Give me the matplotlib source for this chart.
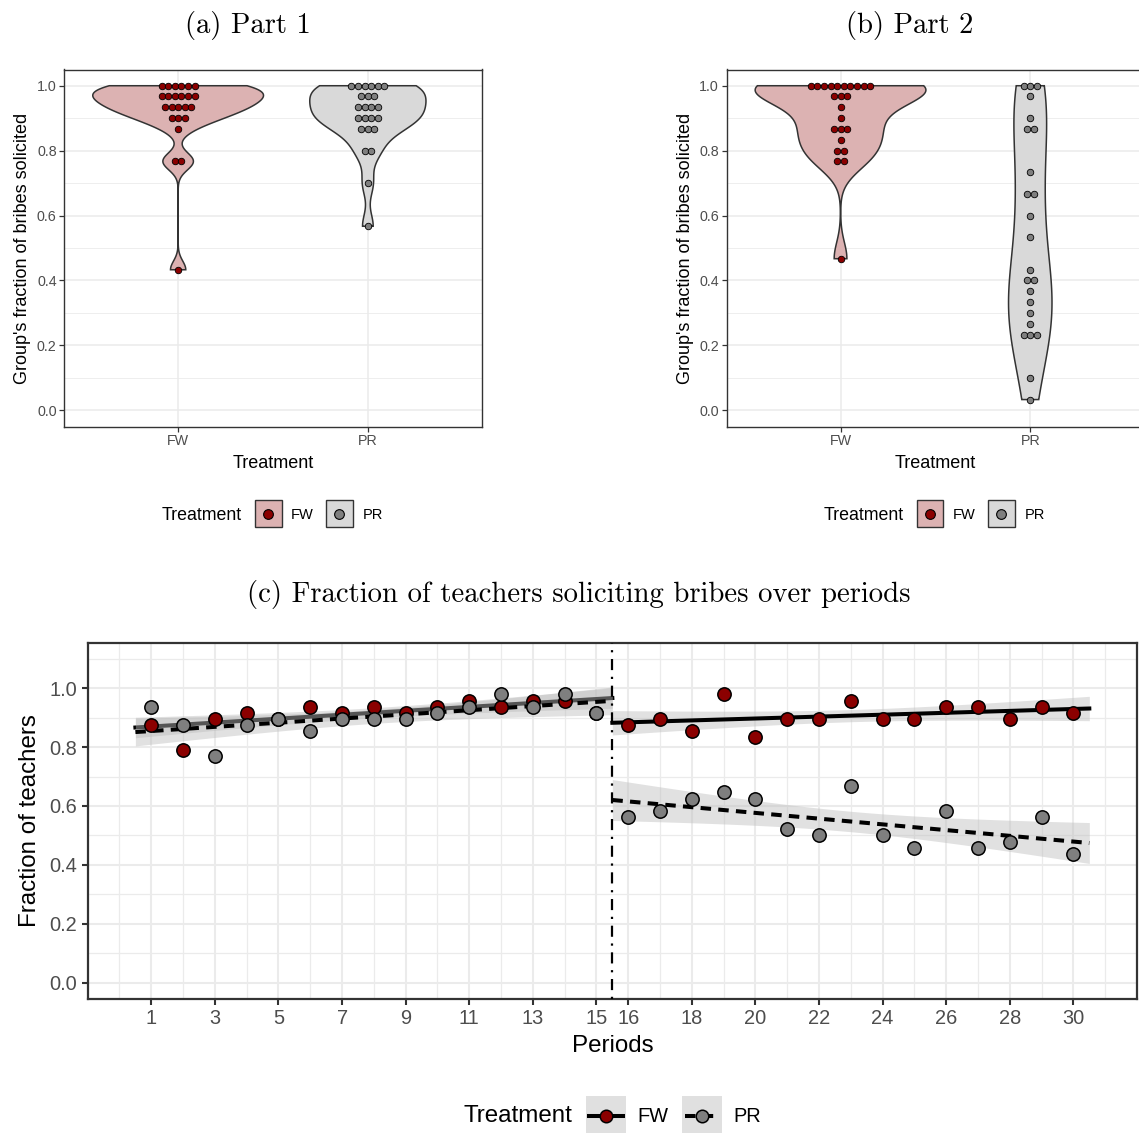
import numpy as np
import matplotlib
matplotlib.use('Agg')
import matplotlib.pyplot as plt
from matplotlib.patches import Rectangle
from matplotlib.lines import Line2D
from matplotlib.ticker import FixedLocator

plt.rcParams['font.family'] = ['Liberation Sans', 'DejaVu Sans']

# ---------------- data ----------------
treatments = ['FW', 'PR']

# Panel (a): Part 1, group-level fraction of bribes solicited (level, count)
a_fw_levels = [1.000, 0.967, 0.933, 0.900, 0.867, 0.767, 0.433]
a_fw_counts = [6, 6, 5, 3, 1, 2, 1]
a_pr_levels = [1.000, 0.967, 0.933, 0.900, 0.867, 0.800, 0.700, 0.567]
a_pr_counts = [6, 3, 4, 4, 3, 2, 1, 1]

# Panel (b): Part 2
b_fw_levels = [1.000, 0.967, 0.933, 0.900, 0.867, 0.833, 0.800, 0.767, 0.467]
b_fw_counts = [10, 3, 1, 1, 3, 1, 2, 2, 1]
b_pr_levels = [1.000, 0.967, 0.900, 0.867, 0.733, 0.667, 0.600, 0.533, 0.433,
               0.400, 0.367, 0.333, 0.300, 0.267, 0.233, 0.100, 0.033]
b_pr_counts = [3, 1, 1, 2, 1, 2, 1, 1, 1, 2, 1, 1, 1, 1, 3, 1, 1]

y_ticks_ab = [0.0, 0.2, 0.4, 0.6, 0.8, 1.0]
y_ticklabels = ['0.0', '0.2', '0.4', '0.6', '0.8', '1.0']

# Panel (c): fraction of teachers soliciting bribes per period
periods = list(range(1, 31))
fw_rate = [0.875, 0.792, 0.896, 0.917, 0.896, 0.938, 0.917, 0.938, 0.917, 0.938,
           0.958, 0.938, 0.958, 0.958, 0.917, 0.875, 0.896, 0.854, 0.979, 0.833,
           0.896, 0.896, 0.958, 0.896, 0.896, 0.938, 0.938, 0.896, 0.938, 0.917]
pr_rate = [0.938, 0.875, 0.771, 0.875, 0.896, 0.854, 0.896, 0.896, 0.896, 0.917,
           0.938, 0.979, 0.938, 0.979, 0.917, 0.563, 0.583, 0.625, 0.646, 0.625,
           0.521, 0.500, 0.667, 0.500, 0.458, 0.583, 0.458, 0.479, 0.563, 0.438]
x_ticks_c = [1, 3, 5, 7, 9, 11, 13, 15, 16, 18, 20, 22, 24, 26, 28, 30]

# ---------------- style ----------------
W, H = 1139, 1133
DPI = 100
fig = plt.figure(figsize=(W / DPI, H / DPI), dpi=DPI)

RED = '#8B0000'
GREY = '#7F7F7F'
FILL = {'FW': '#DCB2B2', 'PR': '#D9D9D9'}
PT = {'FW': RED, 'PR': GREY}
GRID = '#EBEBEB'
DARK = '#333333'
TICKC = '#4D4D4D'


def rect(l, t, r, b):
    return [l / W, 1 - b / H, (r - l) / W, (b - t) / H]


def fx(x):
    return x / W


def fy(y):
    return 1 - y / H


def expand(levels, counts):
    out = []
    for v, c in zip(levels, counts):
        out += [v] * c
    return np.array(out)


def kde(vals, grid):
    n = len(vals)
    sd = np.std(vals, ddof=1)
    q75, q25 = np.percentile(vals, [75, 25])
    lo = min(sd, (q75 - q25) / 1.34)
    if lo <= 0:
        lo = sd
    bw = 0.9 * lo * n ** -0.2
    z = (grid[:, None] - vals[None, :]) / bw
    return np.exp(-0.5 * z ** 2).sum(1) / (n * bw * np.sqrt(2 * np.pi))


def violin_panel(ax, data, ax_w_px):
    ax.set_xlim(0.4, 2.6)
    ax.set_ylim(-0.05, 1.05)
    ax.set_axisbelow(True)
    ax.yaxis.set_major_locator(FixedLocator(y_ticks_ab))
    ax.yaxis.set_minor_locator(FixedLocator([0.1, 0.3, 0.5, 0.7, 0.9]))
    ax.set_yticklabels(y_ticklabels)
    ax.set_xticks([1, 2])
    ax.set_xticklabels(treatments)
    ax.grid(True, which='major', color=GRID, lw=1.1)
    ax.grid(True, which='minor', axis='y', color=GRID, lw=0.6)
    ax.tick_params(which='major', direction='out', length=3.5, width=0.9,
                   color=DARK, labelcolor=TICKC, labelsize=10.3, pad=2)
    ax.tick_params(which='minor', length=0)
    for s in ax.spines.values():
        s.set_color(DARK)
        s.set_linewidth(1.0)
    ax.set_xlabel('Treatment', fontsize=13, labelpad=5)
    ax.set_ylabel("Group's fraction of bribes solicited", fontsize=13, labelpad=4)

    dens = {}
    grids = {}
    for t in treatments:
        vals = expand(*data[t])
        g = np.linspace(vals.min(), vals.max(), 512)
        grids[t] = g
        dens[t] = kde(vals, g)
    dmax = max(d.max() for d in dens.values())
    for i, t in enumerate(treatments):
        pos = i + 1
        hw = 0.45 * dens[t] / dmax
        g = grids[t]
        xs = np.concatenate([pos - hw, (pos + hw)[::-1]])
        ys = np.concatenate([g, g[::-1]])
        ax.fill(xs, ys, facecolor=FILL[t], edgecolor=DARK, lw=1.1, zorder=2)
    # dotplot (centered stacks)
    dot_px = 6.6
    dx = dot_px * 2.2 / ax_w_px
    for i, t in enumerate(treatments):
        pos = i + 1
        levels, counts = data[t]
        xs, ys = [], []
        for v, c in zip(levels, counts):
            for k in range(c):
                xs.append(pos + (k - (c - 1) / 2) * dx)
                ys.append(v)
        ax.plot(xs, ys, 'o', ms=4.7, mfc=PT[t], mec='black', mew=0.6, zorder=3,
                linestyle='none')


axA = fig.add_axes(rect(64.3, 69.5, 481.7, 426.5))
violin_panel(axA, {'FW': (a_fw_levels, a_fw_counts), 'PR': (a_pr_levels, a_pr_counts)}, 417.4)
axB = fig.add_axes(rect(726.7, 69.5, 1144.1, 426.5))
violin_panel(axB, {'FW': (b_fw_levels, b_fw_counts), 'PR': (b_pr_levels, b_pr_counts)}, 417.4)

# titles
fig.text(fx(247.5), fy(25), '(a) Part 1', family='cmr10', fontsize=20.6, ha='center', va='center')
fig.text(fx(909.5), fy(25), '(b) Part 2', family='cmr10', fontsize=20.6, ha='center', va='center')
fig.text(fx(578.5), fy(594), '(c) Fraction of teachers soliciting bribes over periods',
         family='cmr10', fontsize=20.7, ha='center', va='center')

# legends for (a) and (b)
for off in (0, 662):
    fig.text(fx(162 + off), fy(515), 'Treatment', fontsize=12.8, ha='left', va='center')
    for t, bx, lx in (('FW', 255, 291), ('PR', 326, 363)):
        fig.patches.append(Rectangle((fx(bx + off), fy(527)), 26.5 / W, 27 / H,
                                     transform=fig.transFigure, facecolor=FILL[t],
                                     edgecolor=DARK, lw=1.0))
        fig.lines.append(Line2D([fx(bx + off + 13.25)], [fy(513.5)], transform=fig.transFigure,
                                marker='o', ms=7, mfc=PT[t], mec='black', mew=0.8))
        fig.text(fx(lx + off), fy(515), t, fontsize=10.5, ha='left', va='center')

# ---------------- panel (c) ----------------
axC = fig.add_axes(rect(87.7, 642.7, 1137, 998.7))
axC.set_xlim(-1, 32)
axC.set_ylim(-0.055, 1.155)
axC.set_axisbelow(True)
axC.xaxis.set_major_locator(FixedLocator(x_ticks_c))
axC.xaxis.set_minor_locator(FixedLocator([v for v in range(0, 32) if v not in x_ticks_c]))
axC.yaxis.set_major_locator(FixedLocator(y_ticks_ab))
axC.yaxis.set_minor_locator(FixedLocator([0.1, 0.3, 0.5, 0.7, 0.9, 1.1]))
axC.set_yticklabels(y_ticklabels)
axC.grid(True, which='major', color=GRID, lw=1.5)
axC.grid(True, which='minor', color=GRID, lw=0.9)
axC.tick_params(which='major', direction='out', length=4.5, width=1.5,
                color=DARK, labelcolor=TICKC, labelsize=14.4, pad=3)
axC.tick_params(which='minor', length=0)
for s in axC.spines.values():
    s.set_color(DARK)
    s.set_linewidth(1.6)
axC.set_xlabel('Periods', fontsize=17.4, labelpad=5)
axC.set_ylabel('Fraction of teachers', fontsize=17.4, labelpad=6)

RIB = '#BDBDBD'
RIB_A = 0.45
T13 = 2.1604  # t quantile, 13 df, 95%

per = np.array(periods, dtype=float)
series = {'FW': np.array(fw_rate), 'PR': np.array(pr_rate)}
lstyle = {'FW': '-', 'PR': (0, (2.6, 1.8))}
parts = [((1, 15), (0.5, 15.5)), ((16, 30), (15.5, 30.5))]
for (p0, p1), (g0, g1) in parts:
    for t in treatments:
        m = (per >= p0) & (per <= p1)
        x = per[m]
        y = series[t][m]
        n = len(x)
        b, a = np.polyfit(x, y, 1)
        resid = y - (a + b * x)
        s = np.sqrt((resid ** 2).sum() / (n - 2))
        xg = np.linspace(g0, g1, 80)
        yg = a + b * xg
        se = s * np.sqrt(1 / n + (xg - x.mean()) ** 2 / ((x - x.mean()) ** 2).sum())
        axC.fill_between(xg, yg - T13 * se, yg + T13 * se, color=RIB, alpha=RIB_A,
                         lw=0, zorder=2)
        axC.plot(xg, yg, color='black', lw=2.9, linestyle=lstyle[t],
                 dash_capstyle='butt', zorder=2)

for t in treatments:
    axC.plot(per, series[t], 'o', ms=9.6, mfc=PT[t], mec='black', mew=1.1,
             linestyle='none', zorder=4)

axC.axvline(15.5, color='black', lw=1.6, linestyle=(0, (1, 3, 5, 3)), zorder=5)

# legend for (c)
fig.text(fx(463), fy(1116), 'Treatment', fontsize=17.4, ha='left', va='center')
for t, bx, lx in (('FW', 586, 637), ('PR', 682, 733)):
    fig.patches.append(Rectangle((fx(bx), fy(1137)), 40 / W, 41 / H,
                                 transform=fig.transFigure, facecolor='#E0E0E0',
                                 edgecolor='none'))
    fig.lines.append(Line2D([fx(bx + 3), fx(bx + 37)], [fy(1116), fy(1116)],
                            transform=fig.transFigure, color='black', lw=2.9,
                            linestyle=lstyle[t], dash_capstyle='butt'))
    fig.lines.append(Line2D([fx(bx + 20)], [fy(1116)], transform=fig.transFigure,
                            marker='o', ms=9.0, mfc=PT[t], mec='black', mew=1.1))
    fig.text(fx(lx), fy(1116), t, fontsize=14.4, ha='left', va='center')

fig.savefig('out.png', dpi=DPI)
